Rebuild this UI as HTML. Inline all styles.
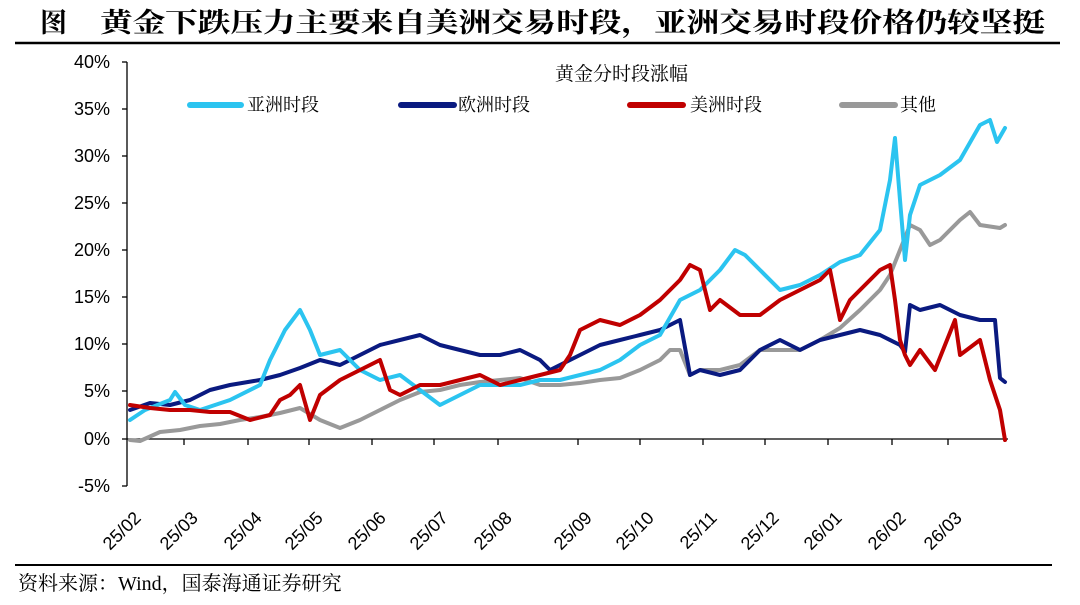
<!DOCTYPE html>
<html><head><meta charset="utf-8"><style>
body{margin:0;background:#fff;width:1080px;height:605px;overflow:hidden}
svg{display:block}
</style></head><body>
<svg width="1080" height="605" xmlns="http://www.w3.org/2000/svg">
<text x="40" y="32" font-family="Liberation Serif,'Noto Serif CJK SC',serif" font-size="27" font-weight="bold" fill="#000">图</text>
<text x="100" y="32" font-family="Liberation Serif,'Noto Serif CJK SC',serif" font-size="27" font-weight="bold" fill="#000" textLength="945" lengthAdjust="spacingAndGlyphs">黄金下跌压力主要来自美洲交易时段，亚洲交易时段价格仍较坚挺</text>
<line x1="15" y1="43" x2="1060" y2="43" stroke="#000" stroke-width="2.5"/>
<line x1="15" y1="565" x2="1052" y2="565" stroke="#000" stroke-width="2"/>
<text x="18" y="590" font-family="Liberation Serif,'Noto Serif CJK SC',serif" font-size="20" fill="#000">资料来源：Wind，国泰海通证券研究</text>
<g font-family="Liberation Sans,sans-serif" font-size="18" fill="#000" text-anchor="end">
<text x="110" y="68">40%</text><text x="110" y="115">35%</text><text x="110" y="162">30%</text><text x="110" y="209">25%</text><text x="110" y="256">20%</text><text x="110" y="303">15%</text><text x="110" y="350">10%</text><text x="110" y="397">5%</text><text x="110" y="445">0%</text><text x="110" y="492">-5%</text>
</g>
<g stroke="#000" stroke-width="1.3">
<line x1="127" y1="62" x2="127" y2="486"/>
<line x1="122" y1="62" x2="127" y2="62"/><line x1="122" y1="109" x2="127" y2="109"/><line x1="122" y1="156" x2="127" y2="156"/><line x1="122" y1="203" x2="127" y2="203"/><line x1="122" y1="250" x2="127" y2="250"/><line x1="122" y1="297" x2="127" y2="297"/><line x1="122" y1="344" x2="127" y2="344"/><line x1="122" y1="391" x2="127" y2="391"/><line x1="122" y1="439" x2="127" y2="439"/><line x1="122" y1="486" x2="127" y2="486"/>
<line x1="127" y1="439" x2="1008" y2="439"/>
<line x1="184" y1="439" x2="184" y2="445"/><line x1="248" y1="439" x2="248" y2="445"/><line x1="309" y1="439" x2="309" y2="445"/><line x1="372" y1="439" x2="372" y2="445"/><line x1="434" y1="439" x2="434" y2="445"/><line x1="498" y1="439" x2="498" y2="445"/><line x1="578" y1="439" x2="578" y2="445"/><line x1="640" y1="439" x2="640" y2="445"/><line x1="703" y1="439" x2="703" y2="445"/><line x1="765" y1="439" x2="765" y2="445"/><line x1="828" y1="439" x2="828" y2="445"/><line x1="892" y1="439" x2="892" y2="445"/><line x1="948" y1="439" x2="948" y2="445"/>
</g>
<g font-family="Liberation Sans,sans-serif" font-size="18" fill="#000" text-anchor="end">
<text transform="translate(142,519) rotate(-45)">25/02</text>
<text transform="translate(199,519) rotate(-45)">25/03</text>
<text transform="translate(263,519) rotate(-45)">25/04</text>
<text transform="translate(324,519) rotate(-45)">25/05</text>
<text transform="translate(387,519) rotate(-45)">25/06</text>
<text transform="translate(449,519) rotate(-45)">25/07</text>
<text transform="translate(513,519) rotate(-45)">25/08</text>
<text transform="translate(593,519) rotate(-45)">25/09</text>
<text transform="translate(655,519) rotate(-45)">25/10</text>
<text transform="translate(718,519) rotate(-45)">25/11</text>
<text transform="translate(780,519) rotate(-45)">25/12</text>
<text transform="translate(843,519) rotate(-45)">26/01</text>
<text transform="translate(907,519) rotate(-45)">26/02</text>
<text transform="translate(963,519) rotate(-45)">26/03</text>
</g>
<text x="555" y="80" font-family="Liberation Serif,'Noto Serif CJK SC',serif" font-size="19" fill="#000">黄金分时段涨幅</text>
<g font-family="Liberation Serif,'Noto Serif CJK SC',serif" font-size="18" fill="#000" stroke-linecap="round">
<line x1="190" y1="105" x2="241" y2="105" stroke="#2bc4f0" stroke-width="6"/><text x="247" y="111">亚洲时段</text>
<line x1="401" y1="105" x2="454" y2="105" stroke="#0a1a80" stroke-width="6"/><text x="458" y="111">欧洲时段</text>
<line x1="630" y1="105" x2="683" y2="105" stroke="#c00000" stroke-width="6"/><text x="690" y="111">美洲时段</text>
<line x1="842" y1="105" x2="895" y2="105" stroke="#999" stroke-width="6"/><text x="900" y="111">其他</text>
</g>
<g fill="none" stroke-width="4" stroke-linejoin="round" stroke-linecap="round">
<polyline stroke="#999" points="130,440 140,441 160,432 180,430 200,426 220,424 240,420 260,417 280,413 300,408 320,420 340,428 360,420 380,410 400,400 420,392 440,390 460,385 480,382 500,380 520,378 540,385 560,385 580,383 600,380 620,378 640,370 660,360 670,350 680,350 690,375 700,370 720,370 740,365 760,350 780,350 800,350 820,340 840,328 860,310 880,290 890,275 900,250 910,225 920,230 930,245 940,240 960,220 970,212 980,225 1000,228 1005,225"/>
<polyline stroke="#0a1a80" points="130,410 150,403 170,405 190,400 210,390 230,385 260,380 280,375 300,368 320,360 340,365 360,355 380,345 400,340 420,335 440,345 460,350 480,355 500,355 520,350 540,360 550,370 560,365 580,355 600,345 620,340 640,335 660,330 680,320 690,375 700,370 720,375 740,370 760,350 780,340 800,350 820,340 840,335 860,330 880,335 900,345 905,352 910,305 920,310 940,305 960,315 980,320 995,320 1000,378 1005,382"/>
<polyline stroke="#2bc4f0" points="130,420 145,410 170,400 175,392 185,405 200,410 230,400 260,385 270,360 285,330 300,310 310,330 320,355 340,350 360,370 380,380 400,375 420,390 440,405 460,395 480,385 500,385 520,385 540,380 560,380 580,375 600,370 620,360 640,345 660,335 680,300 700,290 720,270 735,250 745,255 760,270 780,290 800,285 820,275 840,262 860,255 880,230 890,180 895,138 900,200 905,260 910,215 920,185 940,175 960,160 980,125 990,120 997,142 1005,128"/>
<polyline stroke="#c00000" points="130,405 150,408 170,410 190,410 210,412 230,412 250,420 270,415 280,400 290,395 300,385 310,420 320,395 340,380 360,370 380,360 390,390 400,395 420,385 440,385 460,380 480,375 500,385 520,380 540,375 560,370 570,355 580,330 600,320 620,325 640,315 660,300 680,280 690,265 700,270 710,310 720,300 740,315 760,315 780,300 800,290 820,280 830,270 840,320 850,300 870,280 880,270 890,265 895,300 900,340 905,355 910,365 920,350 935,370 945,345 955,320 960,355 980,340 990,380 1000,410 1005,440"/>
</g>
</svg>
</body></html>
